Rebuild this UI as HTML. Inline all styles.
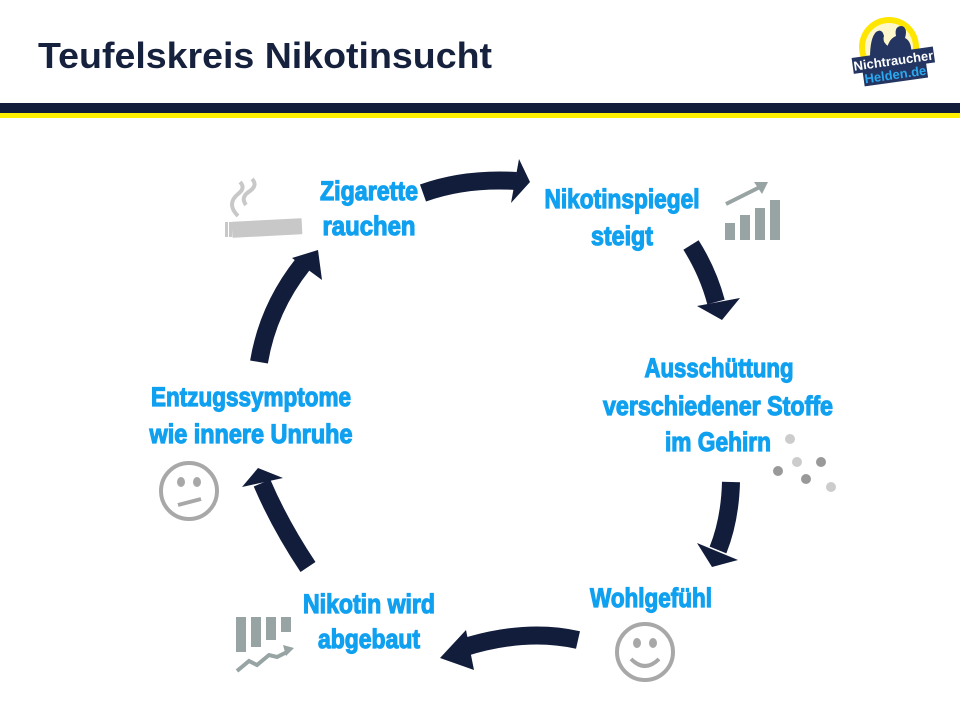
<!DOCTYPE html>
<html><head><meta charset="utf-8"><style>
html,body{margin:0;padding:0;background:#fff;width:960px;height:720px;overflow:hidden}
svg{display:block}
.t{font-family:"Liberation Sans Narrow","Liberation Sans",sans-serif;font-weight:bold;font-size:27px;fill:#10a0f0;stroke:#10a0f0;stroke-width:1.2px;text-anchor:middle}
</style></head><body>
<svg width="960" height="720" viewBox="0 0 960 720" xmlns="http://www.w3.org/2000/svg">
<text x="38" y="68" font-family="Liberation Sans,sans-serif" font-weight="bold" font-size="36" fill="#16213e" textLength="454" lengthAdjust="spacingAndGlyphs">Teufelskreis Nikotinsucht</text>
<rect x="0" y="103" width="960" height="10" fill="#121d3c"/>
<rect x="0" y="113" width="960" height="5" fill="#ffef00"/>
<!-- logo -->
<circle cx="889" cy="47" r="30" fill="#ffe600"/>
<circle cx="889" cy="47" r="24" fill="#fff7cc"/>
<path d="M870 58 q0 -20 6 -26 q6 -4 8 4 q-2 6 4 10 l0 14z M886 58 q0 -18 10 -22 q-2 -10 6 -10 q6 2 3 12 q8 4 6 20z" fill="#233560"/>
<g transform="rotate(-8 895 65)">
<rect x="853" y="52" width="82" height="16" fill="#233560"/>
<text x="894" y="65" font-family="Liberation Sans Narrow,sans-serif" font-weight="bold" font-size="13" fill="#fff" text-anchor="middle">Nichtraucher</text>
<rect x="862" y="67" width="64" height="15" fill="#233560"/>
<text x="894" y="79" font-family="Liberation Sans Narrow,sans-serif" font-weight="bold" font-size="13" fill="#2aa8f0" text-anchor="middle">Helden.de</text>
</g>
<!-- labels -->
<text class="t" x="369" y="200" textLength="98" lengthAdjust="spacingAndGlyphs">Zigarette</text>
<text class="t" x="369" y="235" textLength="93" lengthAdjust="spacingAndGlyphs">rauchen</text>
<text class="t" x="622" y="208" textLength="155" lengthAdjust="spacingAndGlyphs">Nikotinspiegel</text>
<text class="t" x="622" y="245" textLength="62" lengthAdjust="spacingAndGlyphs">steigt</text>
<text class="t" x="719" y="377" textLength="149" lengthAdjust="spacingAndGlyphs">Ausschüttung</text>
<text class="t" x="718" y="415" textLength="230" lengthAdjust="spacingAndGlyphs">verschiedener Stoffe</text>
<text class="t" x="718" y="451" textLength="106" lengthAdjust="spacingAndGlyphs">im Gehirn</text>
<text class="t" x="651" y="607" textLength="122" lengthAdjust="spacingAndGlyphs">Wohlgefühl</text>
<text class="t" x="369" y="613" textLength="132" lengthAdjust="spacingAndGlyphs">Nikotin wird</text>
<text class="t" x="369" y="648" textLength="102" lengthAdjust="spacingAndGlyphs">abgebaut</text>
<text class="t" x="251" y="406" textLength="200" lengthAdjust="spacingAndGlyphs">Entzugssymptome</text>
<text class="t" x="251" y="443" textLength="203" lengthAdjust="spacingAndGlyphs">wie innere Unruhe</text>
<!-- arrows -->
<g fill="none" stroke="#121d3c" stroke-width="18">
<path d="M423 193 Q465 178 516 181"/>
<path d="M691 245 Q708 272 716 302"/>
<path d="M731 482 Q730 520 718 550"/>
<path d="M578 640 Q525 628 462 648"/>
<path d="M308 567 Q280 525 262 483"/>
<path d="M259 362 Q268 308 303 264"/>
</g>
<g fill="#121d3c">
<polygon points="530,182 519,159 511,203"/>
<polygon points="722,320 697,306 740,298"/>
<polygon points="712,567 697,543 738,560"/>
<polygon points="440,658 466,630 474,670"/>
<polygon points="258,468 242,487 283,478"/>
<polygon points="318,250 292,258 322,280"/>
</g>
<!-- icons -->
<g fill="#c8c8c8">
<rect x="232" y="220" width="70" height="16" rx="1" transform="rotate(-3 267 228)"/>
<rect x="225" y="222" width="3" height="15" />
<rect x="229" y="222" width="3" height="15" />
<path d="M238 216 q-12 -12 0 -22 q8 -6 2 -12 M246 205 q-6 -8 4 -14 q8 -6 2 -12" fill="none" stroke="#c8c8c8" stroke-width="4"/>
</g>
<g fill="#98a3a3">
<rect x="725" y="223" width="10" height="17"/>
<rect x="740" y="215" width="10" height="25"/>
<rect x="755" y="208" width="10" height="32"/>
<rect x="770" y="200" width="10" height="40"/>
<path d="M726 204 L760 187" stroke="#98a3a3" stroke-width="4"/>
<polygon points="768,182 754,182 762,194"/>
</g>
<g fill="#999">
<circle cx="790" cy="439" r="5" fill="#ccc"/>
<circle cx="797" cy="462" r="5" fill="#ccc"/>
<circle cx="821" cy="462" r="5"/>
<circle cx="778" cy="471" r="5"/>
<circle cx="806" cy="479" r="5"/>
<circle cx="831" cy="487" r="5" fill="#ccc"/>
</g>
<g fill="none" stroke="#a8a8a8" stroke-width="4">
<circle cx="645" cy="652" r="28"/>
<path d="M631 659 q14 14 28 0"/>
<circle cx="189" cy="491" r="28"/>
<path d="M178 505 L201 499"/>
</g>
<g fill="#a8a8a8">
<ellipse cx="637" cy="643" rx="4" ry="5"/><ellipse cx="653" cy="643" rx="4" ry="5"/>
<ellipse cx="181" cy="482" rx="4" ry="5"/><ellipse cx="197" cy="482" rx="4" ry="5"/>
</g>
<g fill="#98a3a3">
<rect x="236" y="617" width="10" height="35"/>
<rect x="251" y="617" width="10" height="30"/>
<rect x="266" y="617" width="10" height="23"/>
<rect x="281" y="617" width="10" height="15"/>
<path d="M237 671 l12 -10 l8 4 l12 -10 l8 2 l10 -5" fill="none" stroke="#98a3a3" stroke-width="4"/>
<polygon points="294,648 283,645 286,656"/>
</g>
</svg>
</body></html>
